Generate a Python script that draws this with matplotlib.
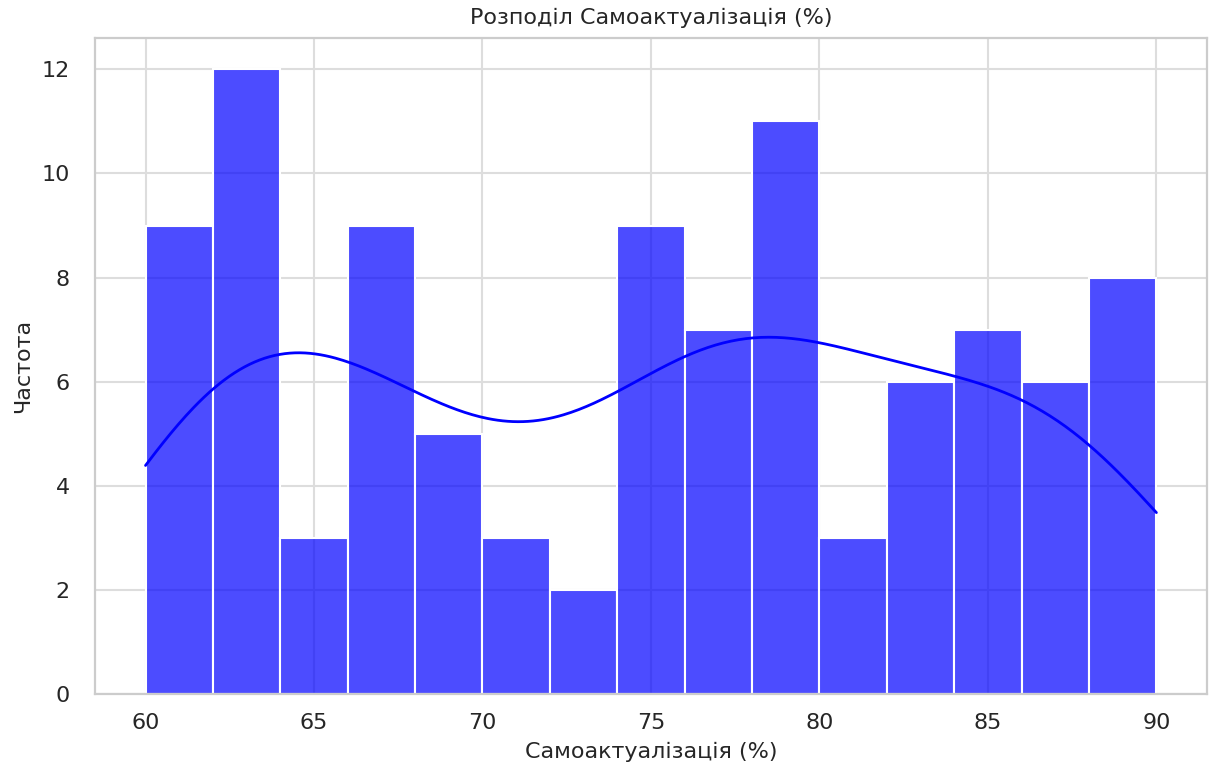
import matplotlib
matplotlib.use("Agg")
import matplotlib.pyplot as plt
import seaborn as sns
import numpy as np

# Data (bin width 2, from 60 to 90)
bin_edges = [60, 62, 64, 66, 68, 70, 72, 74, 76, 78, 80, 82, 84, 86, 88, 90]
counts = [9, 12, 3, 9, 5, 3, 2, 9, 7, 11, 3, 6, 7, 6, 8]
bin_centers = [(a + b) / 2 for a, b in zip(bin_edges[:-1], bin_edges[1:])]

title = "Розподіл Самоактуалізація (%)"
xlabel = "Самоактуалізація (%)"
ylabel = "Частота"

sns.set_theme(style="whitegrid")
plt.rcParams['font.family'] = ['DejaVu Sans']

fig = plt.figure(figsize=(12.13, 7.63), dpi=100)
ax = fig.add_axes([0.0783, 0.0904, 0.9167, 0.8596])

sns.histplot(x=bin_centers, weights=counts, bins=len(counts),
             binrange=(bin_edges[0], bin_edges[-1]), kde=False,
             color="blue", alpha=0.7, ax=ax, edgecolor="white", linewidth=1.5)

# Gaussian KDE (Scott's rule on the full sample size), scaled to counts
c = np.array(bin_centers, dtype=float)
w = np.array(counts, dtype=float)
n = w.sum()
mean = (c * w).sum() / n
std = np.sqrt(((c - mean) ** 2 * w).sum() / (n - 1))
h = std * n ** (-1 / 5)
xs = np.linspace(bin_edges[0], bin_edges[-1], 400)
dens = (w[None, :] * np.exp(-0.5 * ((xs[:, None] - c[None, :]) / h) ** 2)).sum(axis=1) / (n * h * np.sqrt(2 * np.pi))
binw = bin_edges[1] - bin_edges[0]
ax.plot(xs, dens * n * binw, color="blue", linewidth=2)

ax.set_xlim(58.5, 91.5)
ax.set_ylim(0, 12.6)
ax.set_title(title, fontsize=16, color="#262626", pad=10)
ax.set_xlabel(xlabel, fontsize=16, color="#262626", labelpad=6)
ax.set_ylabel(ylabel, fontsize=16, color="#262626", labelpad=6)
ax.tick_params(axis="x", labelsize=16, colors="#262626", pad=8)
ax.tick_params(axis="y", labelsize=16, colors="#262626", pad=12)
for s in ax.spines.values():
    s.set_color("#cccccc")
    s.set_linewidth(1.6)
ax.grid(True, color="#dddddd", linewidth=1.5)
ax.set_axisbelow(True)

fig.savefig("out.png", dpi=100)
